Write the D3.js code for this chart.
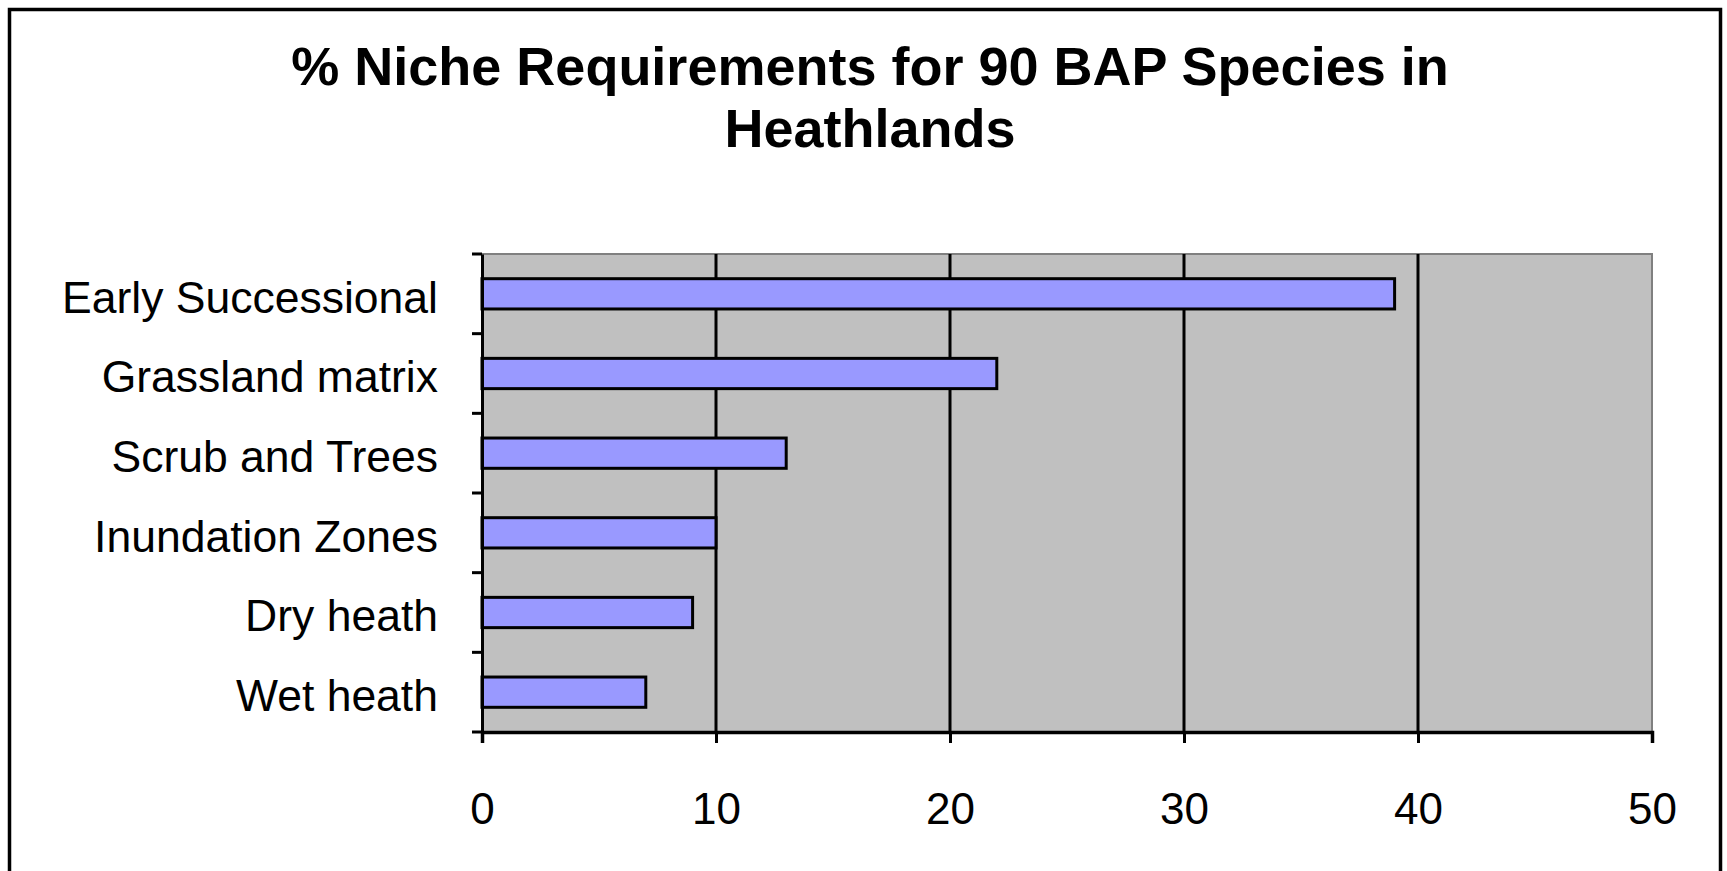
<!DOCTYPE html>
<html>
<head>
<meta charset="utf-8">
<script src="https://cdnjs.cloudflare.com/ajax/libs/d3/7.8.5/d3.min.js"></script>
<style>
  html, body { margin: 0; padding: 0; background: #fff; }
  svg { display: block; }
</style>
</head>
<body>
<svg id="chart" width="1727" height="871"></svg>
<script>
const titleLines = ["% Niche Requirements for 90 BAP Species in", "Heathlands"];
const categories = ["Early Successional", "Grassland matrix", "Scrub and Trees", "Inundation Zones", "Dry heath", "Wet heath"];
const values = [39, 22, 13, 10, 9, 7];
const xTicks = [0, 10, 20, 30, 40, 50];

const svg = d3.select("#chart");
const W = 1727, H = 871;
const plot = { left: 482, right: 1652, top: 254, bottom: 732 };

// outer frame
svg.append("rect")
  .attr("x", 9.5).attr("y", 9.5)
  .attr("width", 1711).attr("height", 880)
  .attr("fill", "#fff").attr("stroke", "#000").attr("stroke-width", 3.5);

// title
const title = svg.append("text")
  .attr("text-anchor", "middle")
  .attr("font-family", "'Liberation Sans', Arial, sans-serif")
  .attr("font-weight", "bold")
  .attr("font-size", 54)
  .attr("fill", "#000");
titleLines.forEach((t, i) => {
  title.append("tspan").attr("x", 870).attr("y", 85 + i * 62).text(t);
});

const x = d3.scaleLinear().domain([0, 50]).range([plot.left, plot.right]);
const y = d3.scaleBand().domain(categories).range([plot.top, plot.bottom]).paddingInner(0.62).paddingOuter(0.31);
const yb = d3.scaleBand().domain(categories).range([plot.top, plot.bottom]);

// plot background
svg.append("rect")
  .attr("x", plot.left).attr("y", plot.top)
  .attr("width", plot.right - plot.left).attr("height", plot.bottom - plot.top)
  .attr("fill", "#c0c0c0").attr("stroke", "#808080").attr("stroke-width", 2);

// gridlines
svg.append("g")
  .selectAll("line")
  .data(xTicks.filter(d => d > 0 && d < 50))
  .join("line")
  .attr("x1", d => x(d)).attr("x2", d => x(d))
  .attr("y1", plot.top).attr("y2", plot.bottom)
  .attr("stroke", "#000").attr("stroke-width", 3);

// bars
svg.append("g")
  .selectAll("rect")
  .data(categories)
  .join("rect")
  .attr("x", x(0))
  .attr("y", d => y(d))
  .attr("width", (d, i) => x(values[i]) - x(0))
  .attr("height", y.bandwidth())
  .attr("fill", "#9999ff")
  .attr("stroke", "#000")
  .attr("stroke-width", 3);

// y axis
const yAxis = d3.axisLeft(yb).tickSize(0).tickPadding(44);
const gy = svg.append("g").attr("transform", `translate(${plot.left},0)`).call(yAxis);
gy.select(".domain").attr("stroke", "#000").attr("stroke-width", 3);
gy.selectAll("text")
  .attr("font-family", "'Liberation Sans', Arial, sans-serif")
  .attr("font-size", 44.5)
  .attr("fill", "#000")
  .attr("dy", "0.42em");
// y ticks at band boundaries
const boundaries = categories.map(c => yb(c)).concat([plot.bottom]);
svg.append("g")
  .selectAll("line")
  .data(boundaries)
  .join("line")
  .attr("x1", plot.left - 10).attr("x2", plot.left)
  .attr("y1", d => d).attr("y2", d => d)
  .attr("stroke", "#000").attr("stroke-width", 3);

// x axis
const xAxis = d3.axisBottom(x).tickValues(xTicks).tickSize(11).tickPadding(50);
const gx = svg.append("g").attr("transform", `translate(0,${plot.bottom})`).call(xAxis);
gx.select(".domain").attr("stroke", "#000").attr("stroke-width", 3.5);
gx.selectAll(".tick line").attr("stroke", "#000").attr("stroke-width", 3);
gx.selectAll("text")
  .attr("font-family", "'Liberation Sans', Arial, sans-serif")
  .attr("font-size", 44)
  .attr("fill", "#000");
</script>
</body>
</html>
